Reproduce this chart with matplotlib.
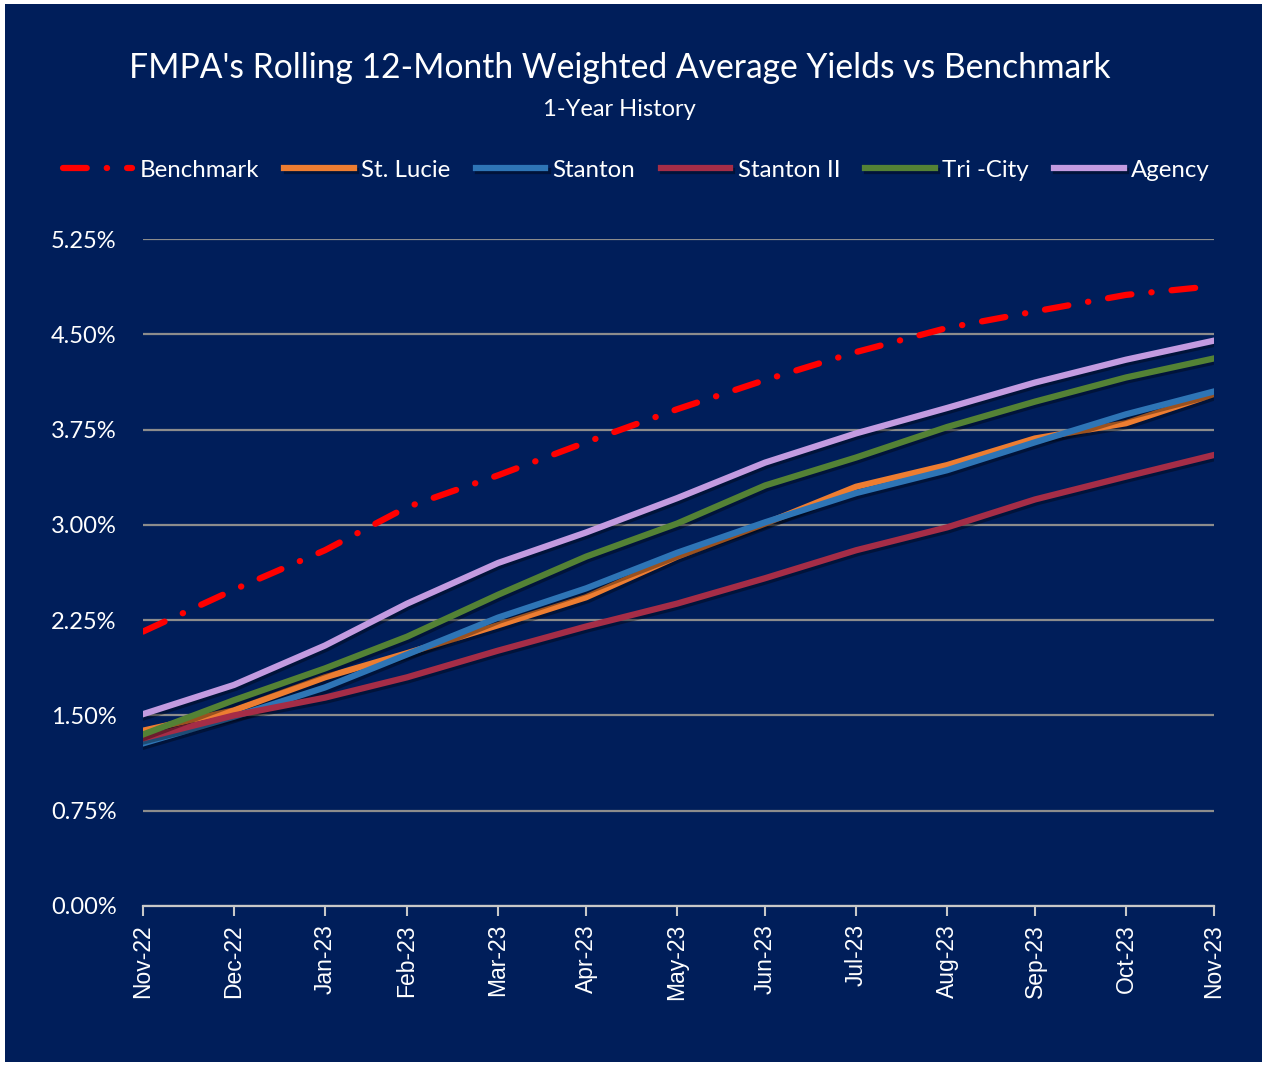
import matplotlib
matplotlib.use("Agg")
import matplotlib.pyplot as plt
import matplotlib.dates as mdates
import matplotlib.patheffects as pe
import pandas as pd

# month-end dates, Nov-22 .. Nov-23
months = pd.date_range("2022-11-30", "2023-11-30", freq="ME")

benchmark = [2.16, 2.49, 2.80, 3.14, 3.39, 3.65, 3.91, 4.14, 4.36, 4.55, 4.68, 4.81, 4.88]
st_lucie = [1.38, 1.54, 1.80, 1.99, 2.21, 2.43, 2.75, 3.01, 3.30, 3.47, 3.68, 3.80, 4.03]
stanton = [1.28, 1.49, 1.72, 1.98, 2.27, 2.50, 2.78, 3.02, 3.25, 3.43, 3.65, 3.87, 4.05]
stanton_ii = [1.32, 1.50, 1.64, 1.80, 2.01, 2.20, 2.38, 2.58, 2.80, 2.98, 3.20, 3.38, 3.55]
tri_city = [1.35, 1.62, 1.87, 2.12, 2.45, 2.75, 3.01, 3.31, 3.53, 3.77, 3.97, 4.16, 4.31]
agency = [1.51, 1.74, 2.05, 2.38, 2.70, 2.94, 3.21, 3.49, 3.72, 3.92, 4.12, 4.30, 4.45]

y_ticks = [0.0, 0.75, 1.5, 2.25, 3.0, 3.75, 4.5, 5.25]

navy = "#001E5A"
fig = plt.figure(figsize=(12.65, 10.66), dpi=100, facecolor="white")
# dark panel with a thin white frame round it
fig.patches.append(plt.Rectangle((5 / 1265, 4 / 1066), 1257 / 1265, 1058 / 1066,
                                 transform=fig.transFigure, facecolor=navy,
                                 edgecolor="none", zorder=-1))

ax = fig.add_axes([143 / 1265, 1 - 906 / 1066, (1214 - 143) / 1265, (906 - 239) / 1066])
ax.set_facecolor(navy)
ax.set_zorder(1)

shadow = [pe.SimpleLineShadow(offset=(1.5, -2), shadow_color="black", alpha=0.35), pe.Normal()]
lw = 4.5

ax.plot(months, benchmark, color="#FF0000", lw=lw, dashes=(3.8, 3.2, 0.05, 3.2),
        dash_capstyle="round", label="Benchmark", zorder=5)
ax.plot(months, st_lucie, color="#ED7D31", lw=lw, label="St. Lucie", path_effects=shadow, zorder=3)
ax.plot(months, stanton, color="#2E75B6", lw=lw, label="Stanton", path_effects=shadow, zorder=3)
ax.plot(months, stanton_ii, color="#A52D47", lw=lw, label="Stanton II", path_effects=shadow, zorder=3)
ax.plot(months, tri_city, color="#548235", lw=lw, label="Tri -City", path_effects=shadow, zorder=3)
ax.plot(months, agency, color="#C39BE0", lw=lw, label="Agency", path_effects=shadow, zorder=3)

ax.set_xlim(months[0], months[-1])
ax.set_ylim(0, 5.25)
ax.set_yticks(y_ticks)
ax.set_yticklabels(["%.2f%%" % v for v in y_ticks], family="Lato", fontsize=17, color="white")
ax.grid(axis="y", color="#8C8C8C", lw=1.6)
ax.set_axisbelow(True)

ax.set_xticks(months)
ax.xaxis.set_major_formatter(mdates.DateFormatter("%b-%y"))
for lab in ax.get_xticklabels():
    lab.set_rotation(90)
    lab.set_fontsize(16.5)
    lab.set_color("white")
    lab.set_family("Liberation Sans")

ax.tick_params(axis="y", length=0, pad=19)
ax.tick_params(axis="x", length=7, width=1.5, color="#C8C8C8", pad=6)
for s in ["left", "right", "top"]:
    ax.spines[s].set_visible(False)
ax.spines["bottom"].set_color("#C8C8C8")
ax.spines["bottom"].set_linewidth(1.6)

fig.text(0.49, 1 - 68 / 1066, "FMPA's Rolling 12-Month Weighted Average Yields vs Benchmark",
         ha="center", va="center", color="white", family="Lato", fontsize=24.2)
fig.text(0.49, 1 - 109 / 1066, "1-Year History", ha="center", va="center",
         color="white", family="Lato", fontsize=17)

leg = fig.legend(loc="center", bbox_to_anchor=(0.503, 1 - 170 / 1066), ncol=6, frameon=False,
                 prop={"family": "Lato", "size": 17.3}, handlelength=2.9, handletextpad=0.3,
                 columnspacing=1.05)
for t in leg.get_texts():
    t.set_color("white")

fig.savefig("out.png", dpi=100, facecolor="white")
